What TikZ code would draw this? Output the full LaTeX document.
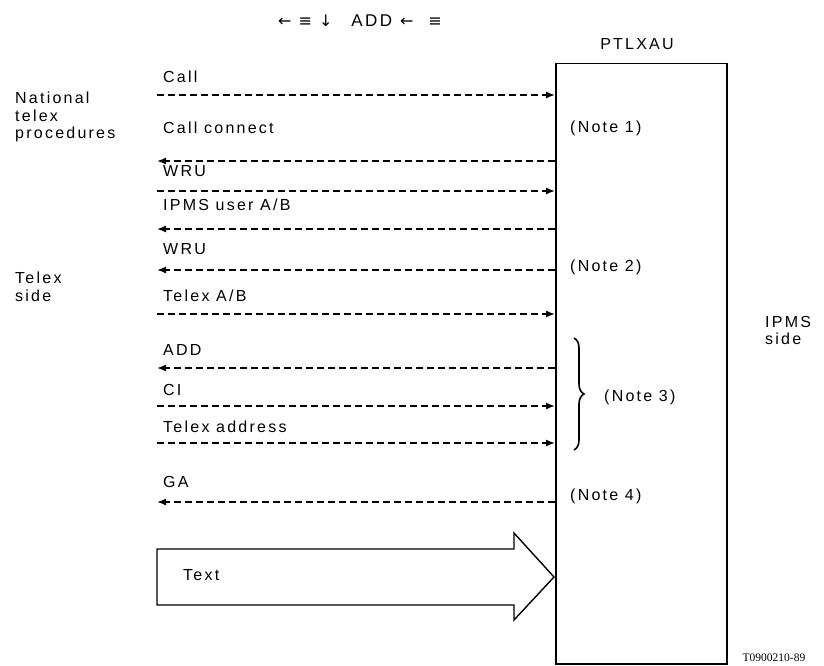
\documentclass[tikz,border=0pt]{standalone}
\usepackage{fontspec}
\setmainfont[LetterSpace=14]{Liberation Sans}
\newfontfamily\symfont{DejaVu Sans}
\newfontfamily\codefont{Liberation Serif}
\newcommand{\sym}[1]{{\symfont\fontsize{16}{16}\selectfont #1}}
\usetikzlibrary{arrows.meta,decorations.pathreplacing}
\begin{document}
\begin{tikzpicture}[x=1pt,y=-1pt,
  every node/.style={font=\fontsize{16}{18}\selectfont, inner sep=0pt},
  msg/.style={line width=1.4pt, dash pattern=on 7pt off 4pt,
     -{Latex[length=9pt,width=7pt]}},
  lbl/.style={anchor=base west},
  side/.style={align=left, anchor=north west, font=\fontsize{16}{17.5}\selectfont}]
\useasboundingbox (0,0) rectangle (824,666);
% title
\node[anchor=west] (title) at (278,21) {\sym{←}\hspace{7pt}\sym{≡}\hspace{7pt}\sym{↓}\hspace{19pt}{\fontsize{17}{17}\selectfont ADD}\hspace{8pt}\sym{←}\hspace{15pt}\sym{≡}};
% box
\node[draw, line width=1.5pt, minimum width=171pt, minimum height=600pt,
      anchor=north west] (ptlxau) at (555,63) {};
\node (ptname) at (637,44) {PTLXAU};
% side labels
\node[side] (natl) at (15,92) {National\\telex\\procedures};
\node[side] (telexside) at (15,272) {Telex\\side};
\node[side] (ipmsside) at (765,316) {IPMS\\side};
% message left ends
\coordinate (c1) at (157,95);
\coordinate (c2) at (157,161);
\coordinate (c3) at (157,191);
\coordinate (c4) at (157,229);
\coordinate (c5) at (157,270);
\coordinate (c6) at (157,314);
\coordinate (c7) at (157,368);
\coordinate (c8) at (157,406);
\coordinate (c9) at (157,443);
\coordinate (c10) at (157,502);
% arrows
\draw[msg] (c1) -- (c1 -| ptlxau.west);
\draw[msg] (c2 -| ptlxau.west) -- (c2);
\draw[msg] (c3) -- (c3 -| ptlxau.west);
\draw[msg] (c4 -| ptlxau.west) -- (c4);
\draw[msg] (c5 -| ptlxau.west) -- (c5);
\draw[msg] (c6) -- (c6 -| ptlxau.west);
\draw[msg] (c7 -| ptlxau.west) -- (c7);
\draw[msg] (c8) -- (c8 -| ptlxau.west);
\draw[msg] (c9) -- (c9 -| ptlxau.west);
\draw[msg] (c10 -| ptlxau.west) -- (c10);
% labels
\node[lbl] (l1) at (163,83) {Call};
\node[lbl] (l2) at (163,134) {Call connect};
\node[lbl] (l3) at (163,176) {WRU};
\node[lbl] (l4) at (163,210) {IPMS user A/B};
\node[lbl] (l5) at (163,254) {WRU};
\node[lbl] (l6) at (163,301) {Telex A/B};
\node[lbl] (l7) at (163,355) {ADD};
\node[lbl] (l8) at (163,395) {CI};
\node[lbl] (l9) at (163,432) {Telex address};
\node[lbl] (l10) at (163,487) {GA};
% notes
\node[anchor=west] (n1) at (570,128) {(Note 1)};
\node[anchor=west] (n2) at (570,267) {(Note 2)};
\node[anchor=west] (n3) at (604,397) {(Note 3)};
\node[anchor=west] (n4) at (570,496) {(Note 4)};
\draw[line width=1.6pt, decorate, decoration={brace, amplitude=10pt}]
  (574,338) -- (574,450);
% text arrow
\draw[line width=1.4pt] (157,549) -- (514,549) -- (514,533) -- (554,577)
  -- (514,620) -- (514,605) -- (157,605) -- cycle;
\node[anchor=west] (textlbl) at (183,575) {Text};
% code
\node[anchor=base, font=\codefont\fontsize{11.5}{13}\selectfont] (code) at (774,661) {T0900210-89};
\end{tikzpicture}
\end{document}
